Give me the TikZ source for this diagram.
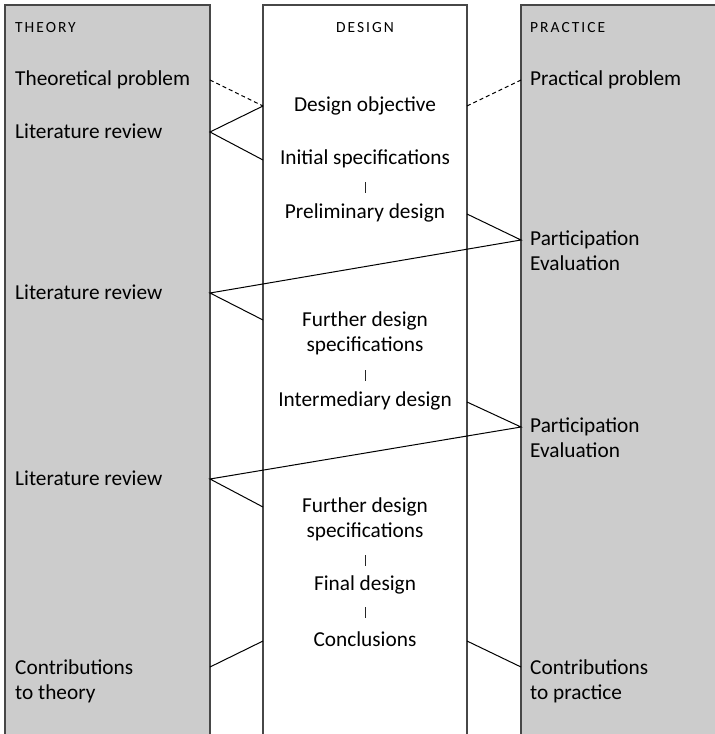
\documentclass[tikz,border=0pt]{standalone}
\usepackage{fontspec}
\setmainfont{Carlito}
\begin{document}
\begin{tikzpicture}[x=1pt,y=-1pt,
  panel/.style={draw=black!72, line width=1.4pt},
  shade/.style={fill=black!20},
  link/.style={line width=1pt, line join=miter},
  dlink/.style={link, dash pattern=on 4pt off 3pt},
  head/.style={font=\fontsize{15.5}{18}\selectfont\addfontfeature{LetterSpace=13}, inner sep=0},
  lbl/.style={font=\fontsize{21.3}{24.5}\selectfont, inner sep=0, anchor=base west, align=left},
  stage/.style={font=\fontsize{21.3}{24.5}\selectfont, inner sep=0, anchor=base, align=center},
  bar/.style={fill=black!85, inner sep=0, minimum width=1pt, minimum height=11pt}]
\useasboundingbox (0,0) rectangle (715,734);

% three columns: theory, design, practice
\fill[shade] (5,5) rectangle (210,745);
\draw[panel] (5,745) -- (5,5) -- (210,5) -- (210,745);
\draw[panel] (263,745) -- (263,5) -- (467,5) -- (467,745);
\fill[shade] (521,5) rectangle (725,745);
\draw[panel] (521,745) -- (521,5) -- (725,5);

% column headings
\node[head, anchor=base west] (hTheory) at (15,32) {THEORY};
\node[head, anchor=base] (hDesign) at (365,32) {DESIGN};
\node[head, anchor=base west] (hPractice) at (530,32) {PRACTICE};

% theory column (two-line labels are placed by their last baseline)
\node[lbl] (tp)  at (15,85.5)  {Theoretical problem};
\node[lbl] (lr1) at (15,138.5) {Literature review};
\node[lbl] (lr2) at (15,299.5) {Literature review};
\node[lbl] (lr3) at (15,485.5) {Literature review};
\node[lbl] (ct)  at (15,699)   {Contributions\\to theory};

% design column
\node[stage] (dobj)  at (365,111) {Design objective};
\node[stage] (ispec) at (365,164) {Initial specifications};
\node[bar]   (b1)    at (365,187.5) {};
\node[stage] (prel)  at (365,218) {Preliminary design};
\node[stage] (fds1)  at (365,351) {Further design\\specifications};
\node[bar]   (b2)    at (365,375) {};
\node[stage] (inter) at (365,406) {Intermediary design};
\node[stage] (fds2)  at (365,537) {Further design\\specifications};
\node[bar]   (b3)    at (365,560.5) {};
\node[stage] (fin)   at (365,590) {Final design};
\node[bar]   (b4)    at (365,612.5) {};
\node[stage] (conc)  at (365,646) {Conclusions};

% practice column
\node[lbl] (pp)  at (530,85.5) {Practical problem};
\node[lbl] (pe1) at (530,270)  {Participation\\Evaluation};
\node[lbl] (pe2) at (530,457)  {Participation\\Evaluation};
\node[lbl] (cp)  at (530,699)  {Contributions\\to practice};

% connection points on the column edges
\coordinate (tpR)    at (210,80);
\coordinate (lr1R)   at (210,132);
\coordinate (lr2R)   at (210,293);
\coordinate (lr3R)   at (210,479);
\coordinate (ctR)    at (210,667);
\coordinate (dobjL)  at (263,106);
\coordinate (dobjR)  at (467,106);
\coordinate (ispecL) at (263,160);
\coordinate (prelR)  at (467,214);
\coordinate (fds1L)  at (263,320);
\coordinate (interR) at (467,402);
\coordinate (fds2L)  at (263,507);
\coordinate (concL)  at (263,641);
\coordinate (concR)  at (467,641);
\coordinate (ppL)    at (521,80);
\coordinate (pe1L)   at (521,240);
\coordinate (pe2L)   at (521,427);
\coordinate (cpL)    at (521,667);

% connectors
\draw[dlink] (tpR) -- (dobjL);
\draw[dlink] (dobjR) -- (ppL);
\draw[link] (dobjL) -- (lr1R) -- (ispecL);
\draw[link] (prelR) -- (pe1L) -- (lr2R) -- (fds1L);
\draw[link] (interR) -- (pe2L) -- (lr3R) -- (fds2L);
\draw[link] (ctR) -- (concL);
\draw[link] (concR) -- (cpL);
\end{tikzpicture}
\end{document}
